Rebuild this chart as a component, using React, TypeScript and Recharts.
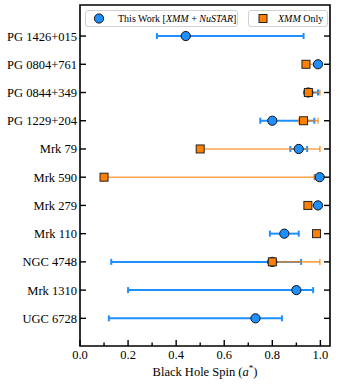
import React from 'react';
import {
  ScatterChart,
  Scatter,
  XAxis,
  YAxis,
  ErrorBar,
  ReferenceArea,
  Legend,
} from 'recharts';

// sources, listed top to bottom
const sources = [
  'PG 1426+015',
  'PG 0804+761',
  'PG 0844+349',
  'PG 1229+204',
  'Mrk 79',
  'Mrk 590',
  'Mrk 279',
  'Mrk 110',
  'NGC 4748',
  'Mrk 1310',
  'UGC 6728',
];

// This Work [XMM + NuSTAR]
const spinJoint = [0.44, 0.99, 0.95, 0.8, 0.91, 0.997, 0.99, 0.85, 0.8, 0.9, 0.73];
const jointLow = [0.12, 0.01, 0.015, 0.05, 0.035, 0.02, 0.005, 0.06, 0.67, 0.7, 0.61];
const jointHigh = [0.49, 0.005, 0.04, 0.175, 0.035, 0.001, 0.005, 0.06, 0.12, 0.07, 0.11];

// XMM only (null = no measurement)
const spinXmm = [null, 0.94, 0.95, 0.93, 0.5, 0.1, 0.948, 0.984, 0.8, null, null];
const xmmLow = [0, 0, 0.01, 0.02, 0, 0, 0, 0, 0, 0, 0];
const xmmHigh = [0, 0.058, 0.048, 0.06, 0.498, 0.875, 0.042, 0, 0.198, 0, 0];

const xTicks = [0, 0.1, 0.2, 0.3, 0.4, 0.5, 0.6, 0.7, 0.8, 0.9, 1.0];

const FONT = '"Liberation Serif", "Times New Roman", serif';
const BLUE = '#1e8fff';
const ORANGE = '#ff8000';
const TOP = sources.length - 1;

const jointData = sources.map((name, i) => ({
  name,
  y: TOP - i,
  x: spinJoint[i],
  err: [jointLow[i], jointHigh[i]],
}));

const xmmData = sources
  .map((name, i) => ({
    name,
    y: TOP - i,
    x: spinXmm[i],
    err: [xmmLow[i], xmmHigh[i]],
  }))
  .filter((d) => d.x !== null);

const TICK_GAP = 6;
const textStyle: React.CSSProperties = { fontFamily: FONT, fontSize: 12.5 };

const BottomTick = (props: any) => {
  const { x, y, payload } = props;
  const axisY = y - TICK_GAP;
  const major = Math.round(payload.value * 10) % 2 === 0;
  return (
    <g>
      <line x1={x} x2={x} y1={axisY} y2={axisY - (major ? 6 : 3.5)} stroke="#000" strokeWidth={1.4} />
      {major && (
        <text x={x} y={axisY + 13} textAnchor="middle" style={textStyle} fill="#000">
          {payload.value.toFixed(1)}
        </text>
      )}
    </g>
  );
};

const LeftTick = (props: any) => {
  const { x, y, payload } = props;
  const axisX = x + TICK_GAP;
  return (
    <g>
      <line x1={axisX} x2={axisX + 6} y1={y} y2={y} stroke="#000" strokeWidth={1.4} />
      <text x={axisX - 3} y={y} dy="0.36em" textAnchor="end" style={textStyle} fill="#000">
        {sources[TOP - payload.value]}
      </text>
    </g>
  );
};

const RightTick = (props: any) => {
  const { x, y } = props;
  const axisX = x - TICK_GAP;
  return <line x1={axisX} x2={axisX - 6} y1={y} y2={y} stroke="#000" strokeWidth={1.4} />;
};

const Dot = (props: any) => (
  <circle cx={props.cx} cy={props.cy} r={4.6} fill={BLUE} stroke="#111" strokeWidth={1} />
);

const Square = (props: any) => (
  <rect x={props.cx - 4} y={props.cy - 4} width={8} height={8} fill={ORANGE} stroke="#222" strokeWidth={1} />
);

const boxStyle: React.CSSProperties = {
  position: 'absolute',
  top: 10,
  height: 17,
  border: '1px solid #d0d0d0',
  borderRadius: 3,
  background: 'rgba(255,255,255,0.8)',
  boxSizing: 'border-box',
  fontFamily: FONT,
  fontSize: 10,
  color: '#000',
  display: 'flex',
  alignItems: 'center',
  whiteSpace: 'nowrap',
};

const LegendBoxes = () => (
  <div style={{ position: 'relative', width: 350, height: 30 }}>
    <div style={{ ...boxStyle, left: 85, width: 153 }}>
      <svg width={26} height={15} style={{ marginLeft: 1 }}>
        <circle cx={12} cy={7.5} r={4.6} fill={BLUE} stroke="#111" strokeWidth={1} />
      </svg>
      <span style={{ marginLeft: 5 }}>
        This Work [<i>XMM</i> + <i>NuSTAR</i>]
      </span>
    </div>
    <div style={{ ...boxStyle, left: 248, width: 80 }}>
      <svg width={26} height={15} style={{ marginLeft: 1 }}>
        <rect x={9} y={3.5} width={8} height={8} fill={ORANGE} stroke="#222" strokeWidth={1} />
      </svg>
      <span style={{ marginLeft: 2 }}>
        <i>XMM</i> Only
      </span>
    </div>
  </div>
);

const AxisTitle = () => (
  <text x={205} y={376} textAnchor="middle" style={textStyle} fill="#000">
    Black Hole Spin (<tspan fontStyle="italic">a</tspan>
    <tspan dy={-5} style={{ fontSize: 9 }}>*</tspan>
    <tspan dy={5}>)</tspan>
  </text>
);

export default function App() {
  return (
    <div style={{ position: 'absolute', left: 0, top: 0, background: '#fff', fontFamily: FONT }}>
      <ScatterChart width={350} height={385} margin={{ top: 5, right: 19, bottom: 0, left: 0 }}>
        <XAxis
          type="number"
          dataKey="x"
          domain={[0, 1.04]}
          ticks={xTicks}
          interval={0}
          allowDataOverflow
          height={39}
          axisLine={false}
          tickLine={false}
          tickSize={0}
          tickMargin={TICK_GAP}
          tick={<BottomTick />}
          label={<AxisTitle />}
        />
        <YAxis
          type="number"
          dataKey="y"
          domain={[-0.98, 11.1]}
          ticks={[0, 1, 2, 3, 4, 5, 6, 7, 8, 9, 10]}
          interval={0}
          allowDataOverflow
          width={80}
          axisLine={false}
          tickLine={false}
          tickSize={0}
          tickMargin={TICK_GAP}
          tick={<LeftTick />}
        />
        <YAxis
          yAxisId="right"
          orientation="right"
          type="number"
          domain={[-0.98, 11.1]}
          ticks={[0, 1, 2, 3, 4, 5, 6, 7, 8, 9, 10]}
          interval={0}
          allowDataOverflow
          width={1}
          axisLine={false}
          tickLine={false}
          tickSize={0}
          tickMargin={TICK_GAP}
          tick={<RightTick />}
        />
        <ReferenceArea
          x1={0}
          x2={1.04}
          y1={-0.98}
          y2={11.1}
          fill="none"
          stroke="#000"
          strokeWidth={1.6}
          ifOverflow="visible"
        />
        <Scatter data={jointData} shape={<Dot />} isAnimationActive={false}>
          <ErrorBar dataKey="err" direction="x" width={3} stroke={BLUE} strokeWidth={2} isAnimationActive={false} />
        </Scatter>
        <Scatter data={xmmData} shape={<Square />} isAnimationActive={false}>
          <ErrorBar
            dataKey="err"
            direction="x"
            width={3}
            stroke={ORANGE}
            strokeOpacity={0.7}
            strokeWidth={1.6}
            isAnimationActive={false}
          />
        </Scatter>
        <Legend
          content={<LegendBoxes />}
          layout="horizontal"
          verticalAlign="middle"
          align="center"
          wrapperStyle={{ position: 'absolute', left: 0, top: 0, width: 350, height: 30 }}
        />
      </ScatterChart>
    </div>
  );
}
